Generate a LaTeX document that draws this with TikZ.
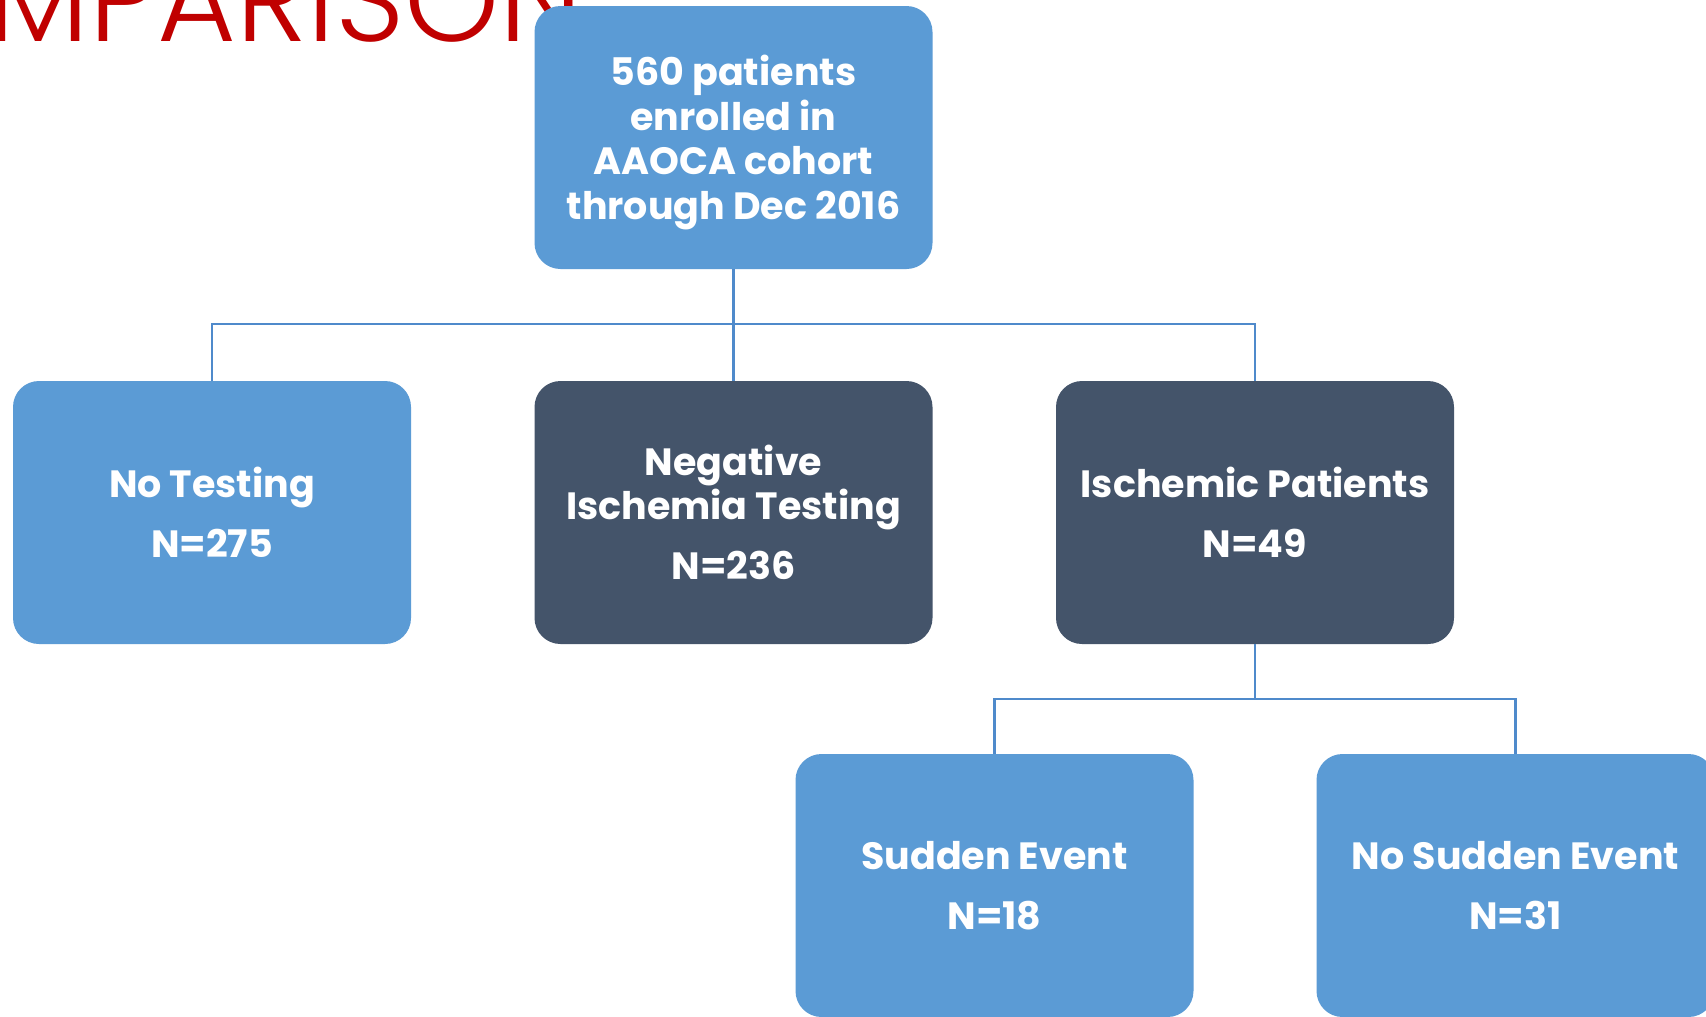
\documentclass[tikz,border=0pt]{standalone}
\usepackage{fontspec}
\setmainfont{Poppins}
\newfontfamily\titlefont{Poppins Light}
\definecolor{boxlight}{HTML}{5B9BD5}
\definecolor{boxdark}{HTML}{44546A}
\definecolor{connc}{HTML}{4F8ACB}
\definecolor{titlered}{HTML}{C00000}
\begin{document}
\begin{tikzpicture}[x=1pt,y=-1pt,
  box/.style={rectangle, rounded corners=26pt, minimum width=398pt, minimum height=263pt,
    inner sep=0pt, outer sep=0pt, text=white, align=center, text depth=0pt,
    font=\fontsize{38}{44.5}\selectfont\bfseries},
  light/.style={box, fill=boxlight},
  dark/.style={box, fill=boxdark},
  conn/.style={draw=connc, line width=2.5pt},
  titlestyle/.style={inner sep=0pt, outer sep=0pt, text=titlered, font=\titlefont\fontsize{121}{126}\selectfont}]
\useasboundingbox (0,0) rectangle (1706,1017);
\fill[white] (0,0) rectangle (1706,1017);
% title, mostly cut off by the page edge and hidden behind the top box
\node[titlestyle, anchor=base east] (ttl) at (583,41) {COMPARISON};
% boxes
\node[light] (top) at (733.5,137.5) {560 patients\\enrolled in\\AAOCA cohort\\through Dec 2016};
\node[light] (notest) at (212,512.5) {No Testing\\[15.5pt]N=275};
\node[dark] (neg) at (733.5,512.5) {Negative\\Ischemia Testing\\[15.5pt]N=236};
\node[dark] (isch) at (1255,512.5) {Ischemic Patients\\[15.5pt]N=49};
\node[light] (sudden) at (994.5,885.5) {Sudden Event\\[15.5pt]N=18};
\node[light] (nosudden) at (1515.5,885.5) {No Sudden Event\\[15.5pt]N=31};
% connectors
\coordinate (bus1) at (733.5,324);
\coordinate (bus2) at (1255,699);
\draw[conn] (top.south) -- (bus1);
\draw[conn] (bus1) -| (notest.north);
\draw[conn] (bus1) -- (neg.north);
\draw[conn] (bus1) -| (isch.north);
\draw[conn] (isch.south) -- (bus2);
\draw[conn] (bus2) -| (sudden.north);
\draw[conn] (bus2) -| (nosudden.north);
\end{tikzpicture}
\end{document}
